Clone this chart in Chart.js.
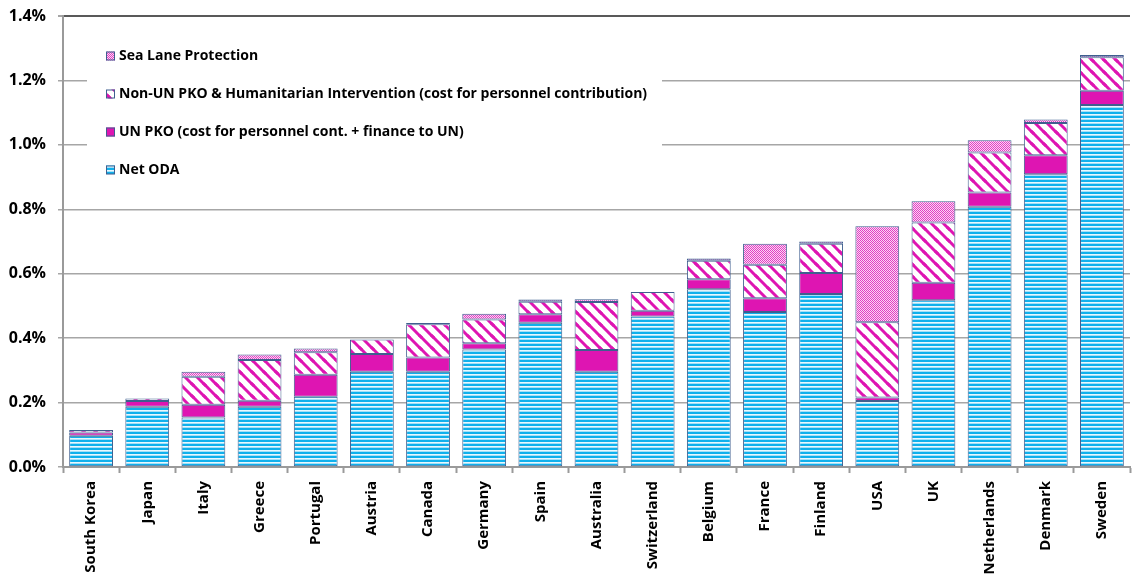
<!DOCTYPE html>
<html>
<head>
<meta charset="utf-8">
<script src="https://cdn.jsdelivr.net/npm/chart.js@4"></script>
<style>
  html, body { margin: 0; padding: 0; background: #fff; }
  #chart { display: block; }
</style>
</head>
<body>
<canvas id="chart" width="1134" height="576"></canvas>
<script>
// Contribution by country, in % of GNI
const countries = ['South Korea', 'Japan', 'Italy', 'Greece', 'Portugal', 'Austria', 'Canada', 'Germany', 'Spain',
    'Australia', 'Switzerland', 'Belgium', 'France', 'Finland', 'USA', 'UK', 'Netherlands', 'Denmark', 'Sweden'];

const netODA  = [0.097, 0.187, 0.154, 0.187, 0.218, 0.296, 0.296, 0.365, 0.448, 0.296, 0.467, 0.552, 0.481, 0.537, 0.205, 0.518, 0.808, 0.909, 1.124];
const unPKO   = [0.010, 0.018, 0.039, 0.019, 0.068, 0.055, 0.044, 0.019, 0.026, 0.067, 0.018, 0.031, 0.043, 0.065, 0.011, 0.054, 0.044, 0.059, 0.044];
const nonUN   = [0.008, 0.008, 0.087, 0.126, 0.070, 0.045, 0.103, 0.074, 0.039, 0.149, 0.058, 0.057, 0.104, 0.091, 0.233, 0.187, 0.124, 0.100, 0.104];
const seaLane = [0.000, 0.000, 0.016, 0.017, 0.012, 0.000, 0.004, 0.018, 0.007, 0.009, 0.000, 0.007, 0.065, 0.007, 0.298, 0.066, 0.038, 0.011, 0.007];

const yTicks = [0, 0.2, 0.4, 0.6, 0.8, 1.0, 1.2, 1.4];

const FONT = '"Open Sans", "DejaVu Sans", sans-serif';
const EDGE = '#3F5F8F';
const MAGENTA = '#DE15B2';

// Small repeating fills for the bar segments
const makePattern = (w, h, paint) => {
    const c = document.createElement('canvas');
    c.width = w;
    c.height = h;
    const g = c.getContext('2d');
    paint(g);
    return g.createPattern(c, 'repeat');
};

const odaFill = makePattern(1, 4, g => {
    ['#10B0EC', '#10B0EC', '#E8F8FE', '#A4E0F8'].forEach((col, i) => {
        g.fillStyle = col;
        g.fillRect(0, i, 1, 1);
    });
});

const diagFill = makePattern(12, 12, g => {
    g.fillStyle = '#fff';
    g.fillRect(0, 0, 12, 12);
    g.strokeStyle = MAGENTA;
    g.lineWidth = 3;
    [[-12, -12], [0, 0], [-12, 0], [0, -12], [12, 0], [0, 12]].forEach(([dx, dy]) => {
        g.beginPath();
        g.moveTo(dx - 2, dy - 2);
        g.lineTo(dx + 14, dy + 14);
        g.stroke();
    });
});

const checkFill = makePattern(2, 2, g => {
    g.fillStyle = '#FBD9F4';
    g.fillRect(0, 0, 2, 2);
    g.fillStyle = '#E23FC4';
    g.fillRect(0, 0, 1, 1);
    g.fillRect(1, 1, 1, 1);
});

const series = [
    { label: 'Net ODA', data: netODA, fill: odaFill },
    { label: 'UN PKO (cost for personnel cont. + finance to UN)', data: unPKO, fill: MAGENTA },
    { label: 'Non-UN PKO & Humanitarian Intervention (cost for personnel contribution)', data: nonUN, fill: diagFill },
    { label: 'Sea Lane Protection', data: seaLane, fill: checkFill }
];

// Legend sits inside the plot, top left, on a white panel over the grid
const insideLegend = {
    id: 'insideLegend',
    beforeDatasetsDraw(chart) {
        const ctx = chart.ctx;
        ctx.save();
        ctx.fillStyle = '#fff';
        ctx.fillRect(87, 30, 575, 160);
        const rows = [56, 94, 132, 170];
        const order = [3, 2, 1, 0];
        ctx.font = `bold 14px ${FONT}`;
        ctx.textBaseline = 'middle';
        order.forEach((si, i) => {
            const y = rows[i];
            ctx.fillStyle = chart.data.datasets[si].backgroundColor;
            ctx.fillRect(106, y - 4.5, 9, 9);
            ctx.strokeStyle = EDGE;
            ctx.lineWidth = 1;
            ctx.strokeRect(106.5, y - 4, 8, 8);
            ctx.fillStyle = '#000';
            ctx.fillText(chart.data.datasets[si].label, 119, y);
        });
        ctx.restore();
    }
};

new Chart(document.getElementById('chart'), {
    type: 'bar',
    data: {
        labels: countries,
        datasets: series.map(s => ({
            label: s.label,
            data: s.data,
            backgroundColor: s.fill,
            borderColor: EDGE,
            borderWidth: 1,
            borderSkipped: false,
            barPercentage: 0.78,
            categoryPercentage: 1
        }))
    },
    options: {
        responsive: false,
        animation: false,
        layout: { padding: { top: 16, right: 4, left: 0, bottom: 0 } },
        plugins: {
            legend: { display: false },
            tooltip: { enabled: false }
        },
        scales: {
            x: {
                stacked: true,
                afterFit: (scale) => {
                    scale.height = 109;
                    scale.paddingLeft = 0;
                    scale.paddingRight = 0;
                },
                grid: {
                    drawOnChartArea: false,
                    drawTicks: true,
                    tickLength: 6,
                    tickColor: '#9A9A9A',
                    tickWidth: 2
                },
                border: { color: '#9A9A9A', width: 2 },
                ticks: {
                    autoSkip: false,
                    maxRotation: 90,
                    minRotation: 90,
                    padding: 8,
                    color: '#000',
                    font: { family: FONT, size: 15, weight: 'bold' }
                }
            },
            y: {
                stacked: true,
                min: 0,
                max: 1.4,
                afterFit: (scale) => {
                    scale.width = 63;
                    scale.paddingTop = 0;
                    scale.paddingBottom = 0;
                },
                afterBuildTicks: (scale) => { scale.ticks = yTicks.map(v => ({ value: v })); },
                grid: {
                    color: (c) => (c.tick && c.tick.value === 1.4 ? '#595959' : '#A6A6A6'),
                    lineWidth: (c) => (c.tick && c.tick.value === 1.4 ? 2 : 1.5),
                    tickLength: 5,
                    tickColor: '#A6A6A6'
                },
                border: { color: '#9A9A9A', width: 2 },
                ticks: {
                    padding: 12,
                    color: '#000',
                    font: { family: FONT, size: 16, weight: 'bold' },
                    callback: (v) => `${Number(v).toFixed(1)}%`
                }
            }
        }
    },
    plugins: [insideLegend]
});
</script>
</body>
</html>
